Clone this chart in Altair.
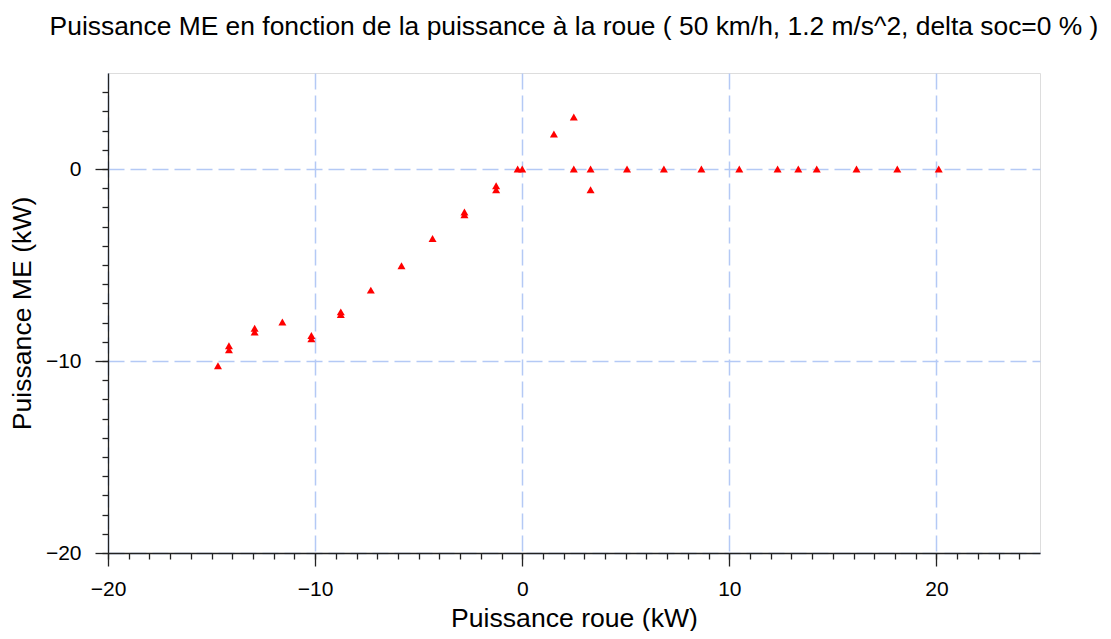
import altair as alt
import pandas as pd

# Data
p_roue = [-14.69, -14.16, -14.16, -12.92, -12.92, -11.58, -10.18, -10.18,
          -8.76, -8.76, -7.31, -5.83, -4.33, -2.79, -2.79, -1.26, -1.26,
          -0.22, 0.0, 1.53, 2.49, 2.49, 3.30, 3.30, 5.06, 6.84, 8.65,
          10.48, 12.33, 13.33, 14.22, 16.14, 18.11, 20.11]
p_me = [-10.25, -9.21, -9.42, -8.29, -8.49, -7.97, -8.67, -8.84,
        -7.44, -7.58, -6.31, -5.04, -3.62, -2.24, -2.38, -0.87, -1.08,
        0.0, 0.0, 1.82, 2.71, 0.0, 0.0, -1.08, 0.0, 0.0, 0.0,
        0.0, 0.0, 0.0, 0.0, 0.0, 0.0, 0.0]

x_major = [-20, -10, 0, 10, 20]
y_major = [-20, -10, 0]
x_minor = list(range(-20, 25))
y_minor = list(range(-20, 5))

title_text = "Puissance ME en fonction de la puissance à la roue ( 50 km/h, 1.2 m/s^2, delta soc=0 % )"
FONT = "Liberation Sans"

df = pd.DataFrame({"x": p_roue, "y": p_me})

xscale = alt.Scale(domain=[-20, 25], nice=False, zero=False)
yscale = alt.Scale(domain=[-20, 5], nice=False, zero=False)

grid_kw = dict(grid=True, gridColor="#b4c9f5", gridDash=[16, 6], gridWidth=1.5)
axis_common = dict(domainColor="#222222", domainWidth=1.3, tickColor="#222222",
                   tickWidth=1.3, labelFont=FONT, labelFontSize=21,
                   labelColor="black", titleFont=FONT,
                   titleFontWeight="normal", titleColor="black", labelFlush=False)

base = alt.Chart(df)

points = base.mark_point(shape="triangle-up", filled=True, color="#ff0000",
                         size=64, opacity=1).encode(
    x=alt.X("x:Q", scale=xscale,
            axis=alt.Axis(values=x_major, tickSize=13, labelPadding=12,
                          title="Puissance roue (kW)", titleBaseline="alphabetic",
                          titleFontSize=26.6, titleY=73, orient="bottom",
                          **grid_kw, **axis_common)),
    y=alt.Y("y:Q", scale=yscale,
            axis=alt.Axis(values=y_major, tickSize=13, labelPadding=14,
                          title="Puissance ME (kW)", titleBaseline="alphabetic",
                          titleFontSize=26.6,
                          titleAngle=-90, titleX=-78, titleY=240, titleAlign="center",
                          orient="left", **grid_kw, **axis_common)),
)

minor = base.mark_point(opacity=0).encode(
    x=alt.X("x:Q", scale=xscale,
            axis=alt.Axis(values=x_minor, tickSize=6, labels=False, domain=False,
                          grid=False, title=None, orient="bottom",
                          tickColor="#222222", tickWidth=1.3)),
    y=alt.Y("y:Q", scale=yscale,
            axis=alt.Axis(values=y_minor, tickSize=6, labels=False, domain=False,
                          grid=False, title=None, orient="left",
                          tickColor="#222222", tickWidth=1.3)),
)

chart = alt.layer(minor, points).resolve_axis(
    x="independent", y="independent"
).properties(
    width=932, height=480,
    autosize=alt.AutoSizeParams(type="none"),
    padding={"left": 100, "top": 65, "right": 63, "bottom": 78},
    title=alt.TitleParams(text=title_text, font=FONT, fontSize=26.4,
                          fontWeight="normal", color="black", anchor="middle",
                          baseline="alphabetic", offset=12),
).configure_view(stroke=None).configure(background="white")

chart.save("out.html", embed_options={"renderer": "svg", "actions": False})
